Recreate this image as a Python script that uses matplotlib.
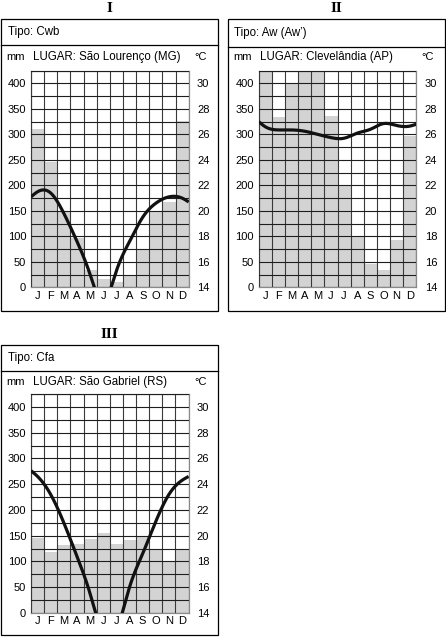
import numpy as np
import matplotlib
matplotlib.use("Agg")
import matplotlib.pyplot as plt
from matplotlib.patches import Rectangle
from matplotlib.lines import Line2D

plt.rcParams["font.family"] = ["Liberation Sans", "DejaVu Sans"]

W, H = 446, 637

meses = ["J", "F", "M", "A", "M", "J", "J", "A", "S", "O", "N", "D"]

# chuva mensal (mm)
chuva_1 = [310, 245, 150, 96, 33, 17, 11, 24, 73, 147, 168, 327]
chuva_2 = [440, 335, 398, 440, 440, 337, 200, 100, 45, 33, 93, 296]
chuva_3 = [145, 119, 131, 134, 144, 156, 134, 142, 148, 124, 100, 124]

# temperatura media mensal (°C) + valor nas bordas do grafico
temp_1 = [21.5, 21.4, 19.8, 17.6, 15.0, 12.8, 15.3, 17.6, 19.5, 20.6, 21.1, 21.0]
borda_1 = (21.1, 20.7)
temp_2 = [26.6, 26.35, 26.35, 26.25, 26.0, 25.75, 25.7, 26.1, 26.4, 26.85, 26.7, 26.65]
borda_2 = (27.0, 26.8)
temp_3 = [24.6, 23.2, 21.0, 18.4, 15.5, 12.3, 12.6, 16.0, 18.6, 21.1, 23.2, 24.3]
borda_3 = (25.05, 24.6)

tipos = ["Tipo: Cwb", "Tipo: Aw (Aw\u2019)", "Tipo: Cfa"]
lugares = ["LUGAR: São Lourenço (MG)", "LUGAR: Clevelândia (AP)", "LUGAR: São Gabriel (RS)"]
titulos = ["I", "II", "III"]


def spline(xk, yk, n=600):
    # spline cubica natural, so para desenhar a curva suave
    xk = np.asarray(xk, float)
    yk = np.asarray(yk, float)
    m = len(xk)
    h = np.diff(xk)
    A = np.zeros((m, m))
    b = np.zeros(m)
    A[0, 0] = 1
    A[-1, -1] = 1
    for i in range(1, m - 1):
        A[i, i - 1] = h[i - 1]
        A[i, i] = 2 * (h[i - 1] + h[i])
        A[i, i + 1] = h[i]
        b[i] = 6 * ((yk[i + 1] - yk[i]) / h[i] - (yk[i] - yk[i - 1]) / h[i - 1])
    M = np.linalg.solve(A, b)
    xs = np.linspace(xk[0], xk[-1], n)
    idx = np.clip(np.searchsorted(xk, xs) - 1, 0, m - 2)
    x0, x1 = xk[idx], xk[idx + 1]
    hh = x1 - x0
    ys = (M[idx] * (x1 - xs) ** 3 / (6 * hh) + M[idx + 1] * (xs - x0) ** 3 / (6 * hh)
          + (yk[idx] / hh - M[idx] * hh / 6) * (x1 - xs)
          + (yk[idx + 1] / hh - M[idx + 1] * hh / 6) * (xs - x0))
    return xs, ys


def fx(x):
    return x / W


def fy(y):
    return 1 - y / H


fig = plt.figure(figsize=(W / 100, H / 100), dpi=100)


def painel(caixa, sep, area, y_tipo, y_lugar, titulo, tipo, lugar, chuva, temp, borda):
    bx0, by0, bx1, by1 = caixa
    fig.add_artist(Rectangle((fx(bx0), fy(by1)), fx(bx1 - bx0), (by1 - by0) / H,
                             transform=fig.transFigure, fill=False, lw=0.9, ec="black"))
    fig.add_artist(Line2D([fx(bx0), fx(bx1)], [fy(sep), fy(sep)],
                          transform=fig.transFigure, lw=0.9, color="black"))
    fig.text(fx((bx0 + bx1) / 2), fy(by0 - 11), titulo, ha="center", va="center",
             fontsize=11, fontweight="bold", family=["Liberation Serif", "DejaVu Serif"])
    fig.text(fx(bx0 + 6.5), fy(y_tipo), tipo, ha="left", va="center", fontsize=8.3)
    fig.text(fx(bx0 + 5.5), fy(y_lugar), "mm", ha="left", va="center", fontsize=8)
    fig.text(fx(bx0 + 32), fy(y_lugar), lugar, ha="left", va="center", fontsize=8.3)
    fig.text(fx(bx0 + 193), fy(y_lugar), "°C", ha="left", va="center", fontsize=8)

    x0, y0, x1, y1 = area
    ax = fig.add_axes([fx(x0), fy(y1), (x1 - x0) / W, (y1 - y0) / H])
    centros = np.arange(12) + 0.5
    ax.bar(centros, chuva, width=1.0, color="#d3d3d3", edgecolor="none", zorder=1)
    ax.set_xlim(0, 12)
    ax.set_ylim(0, 425)
    ax.set_xticks(centros)
    ax.set_xticklabels(meses, fontsize=8)
    ax.set_xticks(np.arange(13), minor=True)
    ax.set_yticks(np.arange(0, 401, 50))
    ax.set_yticks(np.arange(25, 426, 50), minor=True)
    ax.tick_params(axis="y", which="major", length=0, pad=3.5, labelsize=8)
    ax.tick_params(axis="x", which="major", length=0, pad=2.5)
    ax.tick_params(which="minor", length=0)
    ax.set_axisbelow(False)
    ax.grid(axis="y", which="both", color="#1e1e1e", lw=0.8, zorder=2)
    ax.grid(axis="x", which="minor", color="#3a3a3a", lw=0.8, zorder=2)
    for s in ax.spines.values():
        s.set_color("#8a8a8a")
        s.set_linewidth(0.9)

    ax2 = ax.twinx()
    ax2.set_ylim(14, 14 + 425 / 25)
    ax2.set_yticks(np.arange(14, 31, 2))
    ax2.tick_params(axis="y", length=0, pad=6, labelsize=8)
    for s in ax2.spines.values():
        s.set_visible(False)
    xk = [0] + list(centros) + [12]
    yk = [borda[0]] + list(temp) + [borda[1]]
    xs, ys = spline(xk, yk)
    ax2.plot(xs, ys, color="#111111", lw=2.3, solid_capstyle="butt")


painel((1, 19, 218, 311), 44.5, (31, 70.7, 188.7, 287.3), 31.5, 57,
       titulos[0], tipos[0], lugares[0], chuva_1, temp_1, borda_1)
painel((228, 19.5, 445, 311), 46.5, (258.7, 70.7, 416.3, 287.3), 33, 57.3,
       titulos[1], tipos[1], lugares[1], chuva_2, temp_2, borda_2)
painel((1, 345, 218, 635), 370.7, (31, 394, 188.6, 613), 358.3, 381.7,
       titulos[2], tipos[2], lugares[2], chuva_3, temp_3, borda_3)

fig.savefig("out.png", dpi=100)
